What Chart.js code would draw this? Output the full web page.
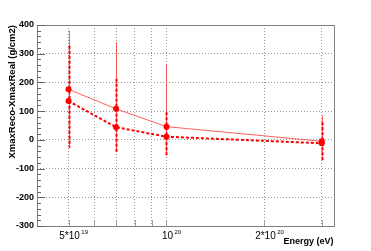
<!DOCTYPE html>
<html>
<head>
<meta charset="utf-8">
<script src="https://cdn.jsdelivr.net/npm/chart.js@4.4.1/dist/chart.umd.min.js"></script>
<style>
  html, body { margin: 0; padding: 0; background: #fff; }
  #wrap { width: 371px; height: 251px; position: relative; }
</style>
</head>
<body>
<div id="wrap"><canvas id="c"></canvas></div>
<script>
/* Xmax reco - real vs energy, two series with error bars (ROOT-style frame) */
var energies = [5e19, 7e19, 1e20, 3e20];
var solidVals = [176, 108, 46, -5];
var solidHigh = [381, 340, 262, 85];
var solidLow = [-29, -40, -50, -70];
var dottedVals = [135, 44, 11, -12];
var dottedHigh = [328, 213, 96, 61];
var dottedLow = [-27, -43, -55, -78];
var yTickVals = [-300, -200, -100, 0, 100, 200, 300, 400];
var xGridVals = [5e19, 6e19, 7e19, 8e19, 9e19, 1e20, 2e20, 3e20];
var xLabelVals = [5e19, 1e20, 2e20];
var xLabelBase = ['5*10', '10', '2*10'];
var xLabelExp = ['19', '20', '20'];

var FONT = '"Liberation Sans", Arial, Helvetica, sans-serif';
var RED = '#ff0000';

function pts(vals) {
  return energies.map(function (e, i) { return { x: e, y: vals[i] }; });
}

var rootStyle = {
  id: 'rootStyle',
  beforeDatasetsDraw: function (chart) {
    var ctx = chart.ctx, xs = chart.scales.x, ys = chart.scales.y;
    function bars(low, high, color, width, dash) {
      ctx.save();
      ctx.strokeStyle = color;
      ctx.lineWidth = width;
      ctx.setLineDash(dash);
      energies.forEach(function (e, i) {
        var px = Math.round(xs.getPixelForValue(e)) + 0.5;
        ctx.beginPath();
        ctx.moveTo(px, ys.getPixelForValue(high[i]));
        ctx.lineTo(px, ys.getPixelForValue(low[i]));
        ctx.stroke();
      });
      ctx.restore();
    }
    bars(solidLow, solidHigh, 'rgba(255,40,40,0.75)', 1, []);
    bars(dottedLow, dottedHigh, RED, 2, [3, 2]);
  },
  afterDraw: function (chart) {
    var ctx = chart.ctx, a = chart.chartArea, xs = chart.scales.x, ys = chart.scales.y;
    ctx.save();
    // frame
    ctx.strokeStyle = '#808080';
    ctx.lineWidth = 1;
    ctx.strokeRect(Math.round(a.left) + 0.5, Math.round(a.top) + 0.5,
      Math.round(a.right - a.left), Math.round(a.bottom - a.top));
    // y ticks (inward), minor every 20
    ctx.strokeStyle = '#666';
    ctx.beginPath();
    for (var v = ys.min; v <= ys.max; v += 20) {
      var py = Math.round(ys.getPixelForValue(v)) + 0.5;
      var len = (v % 100 === 0) ? 8 : 4;
      ctx.moveTo(a.left, py);
      ctx.lineTo(a.left + len, py);
    }
    ctx.stroke();
    // x ticks (inward), light like the grid
    ctx.strokeStyle = '#a0a0a0';
    ctx.beginPath();
    xGridVals.forEach(function (e) {
      var px = Math.round(xs.getPixelForValue(e)) + 0.5;
      ctx.moveTo(px, a.bottom);
      ctx.lineTo(px, a.bottom - 6);
    });
    ctx.stroke();
    // x labels with exponent
    ctx.fillStyle = '#000';
    ctx.textBaseline = 'alphabetic';
    xLabelVals.forEach(function (e, i) {
      var px = xs.getPixelForValue(e) + 1;
      ctx.font = '10px ' + FONT;
      ctx.textAlign = 'center';
      ctx.fillText(xLabelBase[i], px, 239);
      var w = ctx.measureText(xLabelBase[i]).width;
      ctx.font = '6px ' + FONT;
      ctx.textAlign = 'left';
      ctx.fillText(xLabelExp[i], px + w / 2 + 1.5, 234);
    });
    // axis titles
    ctx.font = 'bold 9px ' + FONT;
    ctx.textAlign = 'right';
    ctx.fillText('Energy (eV)', a.right, 244);
    ctx.translate(15, a.top);
    ctx.rotate(-Math.PI / 2);
    ctx.font = 'bold 9.5px ' + FONT;
    ctx.textAlign = 'right';
    ctx.fillText('XmaxReco-XmaxReal (g/cm2)', 0, 0);
    ctx.restore();
  }
};

new Chart(document.getElementById('c'), {
  type: 'line',
  data: {
    datasets: [{
      data: pts(solidVals),
      borderColor: 'rgba(255,40,40,0.75)',
      borderWidth: 1,
      backgroundColor: RED,
      pointBackgroundColor: RED,
      pointBorderWidth: 0,
      pointRadius: 3,
      tension: 0
    }, {
      data: pts(dottedVals),
      borderColor: RED,
      borderWidth: 2,
      borderDash: [3, 2],
      backgroundColor: RED,
      pointBackgroundColor: RED,
      pointBorderWidth: 0,
      pointRadius: 3,
      tension: 0
    }]
  },
  options: {
    responsive: true,
    maintainAspectRatio: false,
    animation: false,
    layout: { padding: { top: 25, right: 37.5, left: 0, bottom: 0 } },
    plugins: { legend: { display: false }, tooltip: { enabled: false } },
    scales: {
      x: {
        type: 'logarithmic',
        min: 4e19,
        max: 3.26e20,
        afterBuildTicks: function (s) { s.ticks = xGridVals.map(function (v) { return { value: v }; }); },
        afterFit: function (s) { s.height = 25; },
        ticks: { display: false },
        grid: { color: '#9a9a9a', lineWidth: 1, drawTicks: false },
        border: { display: false, dash: [1, 2] }
      },
      y: {
        min: -300,
        max: 400,
        afterBuildTicks: function (s) { s.ticks = yTickVals.map(function (v) { return { value: v }; }); },
        afterFit: function (s) { s.width = 37; },
        ticks: { color: '#000', padding: 3, font: { family: FONT, size: 9, weight: 'bold' } },
        grid: { color: '#9a9a9a', lineWidth: 1, drawTicks: false },
        border: { display: false, dash: [1, 2] }
      }
    }
  },
  plugins: [rootStyle]
});
</script>
</body>
</html>
